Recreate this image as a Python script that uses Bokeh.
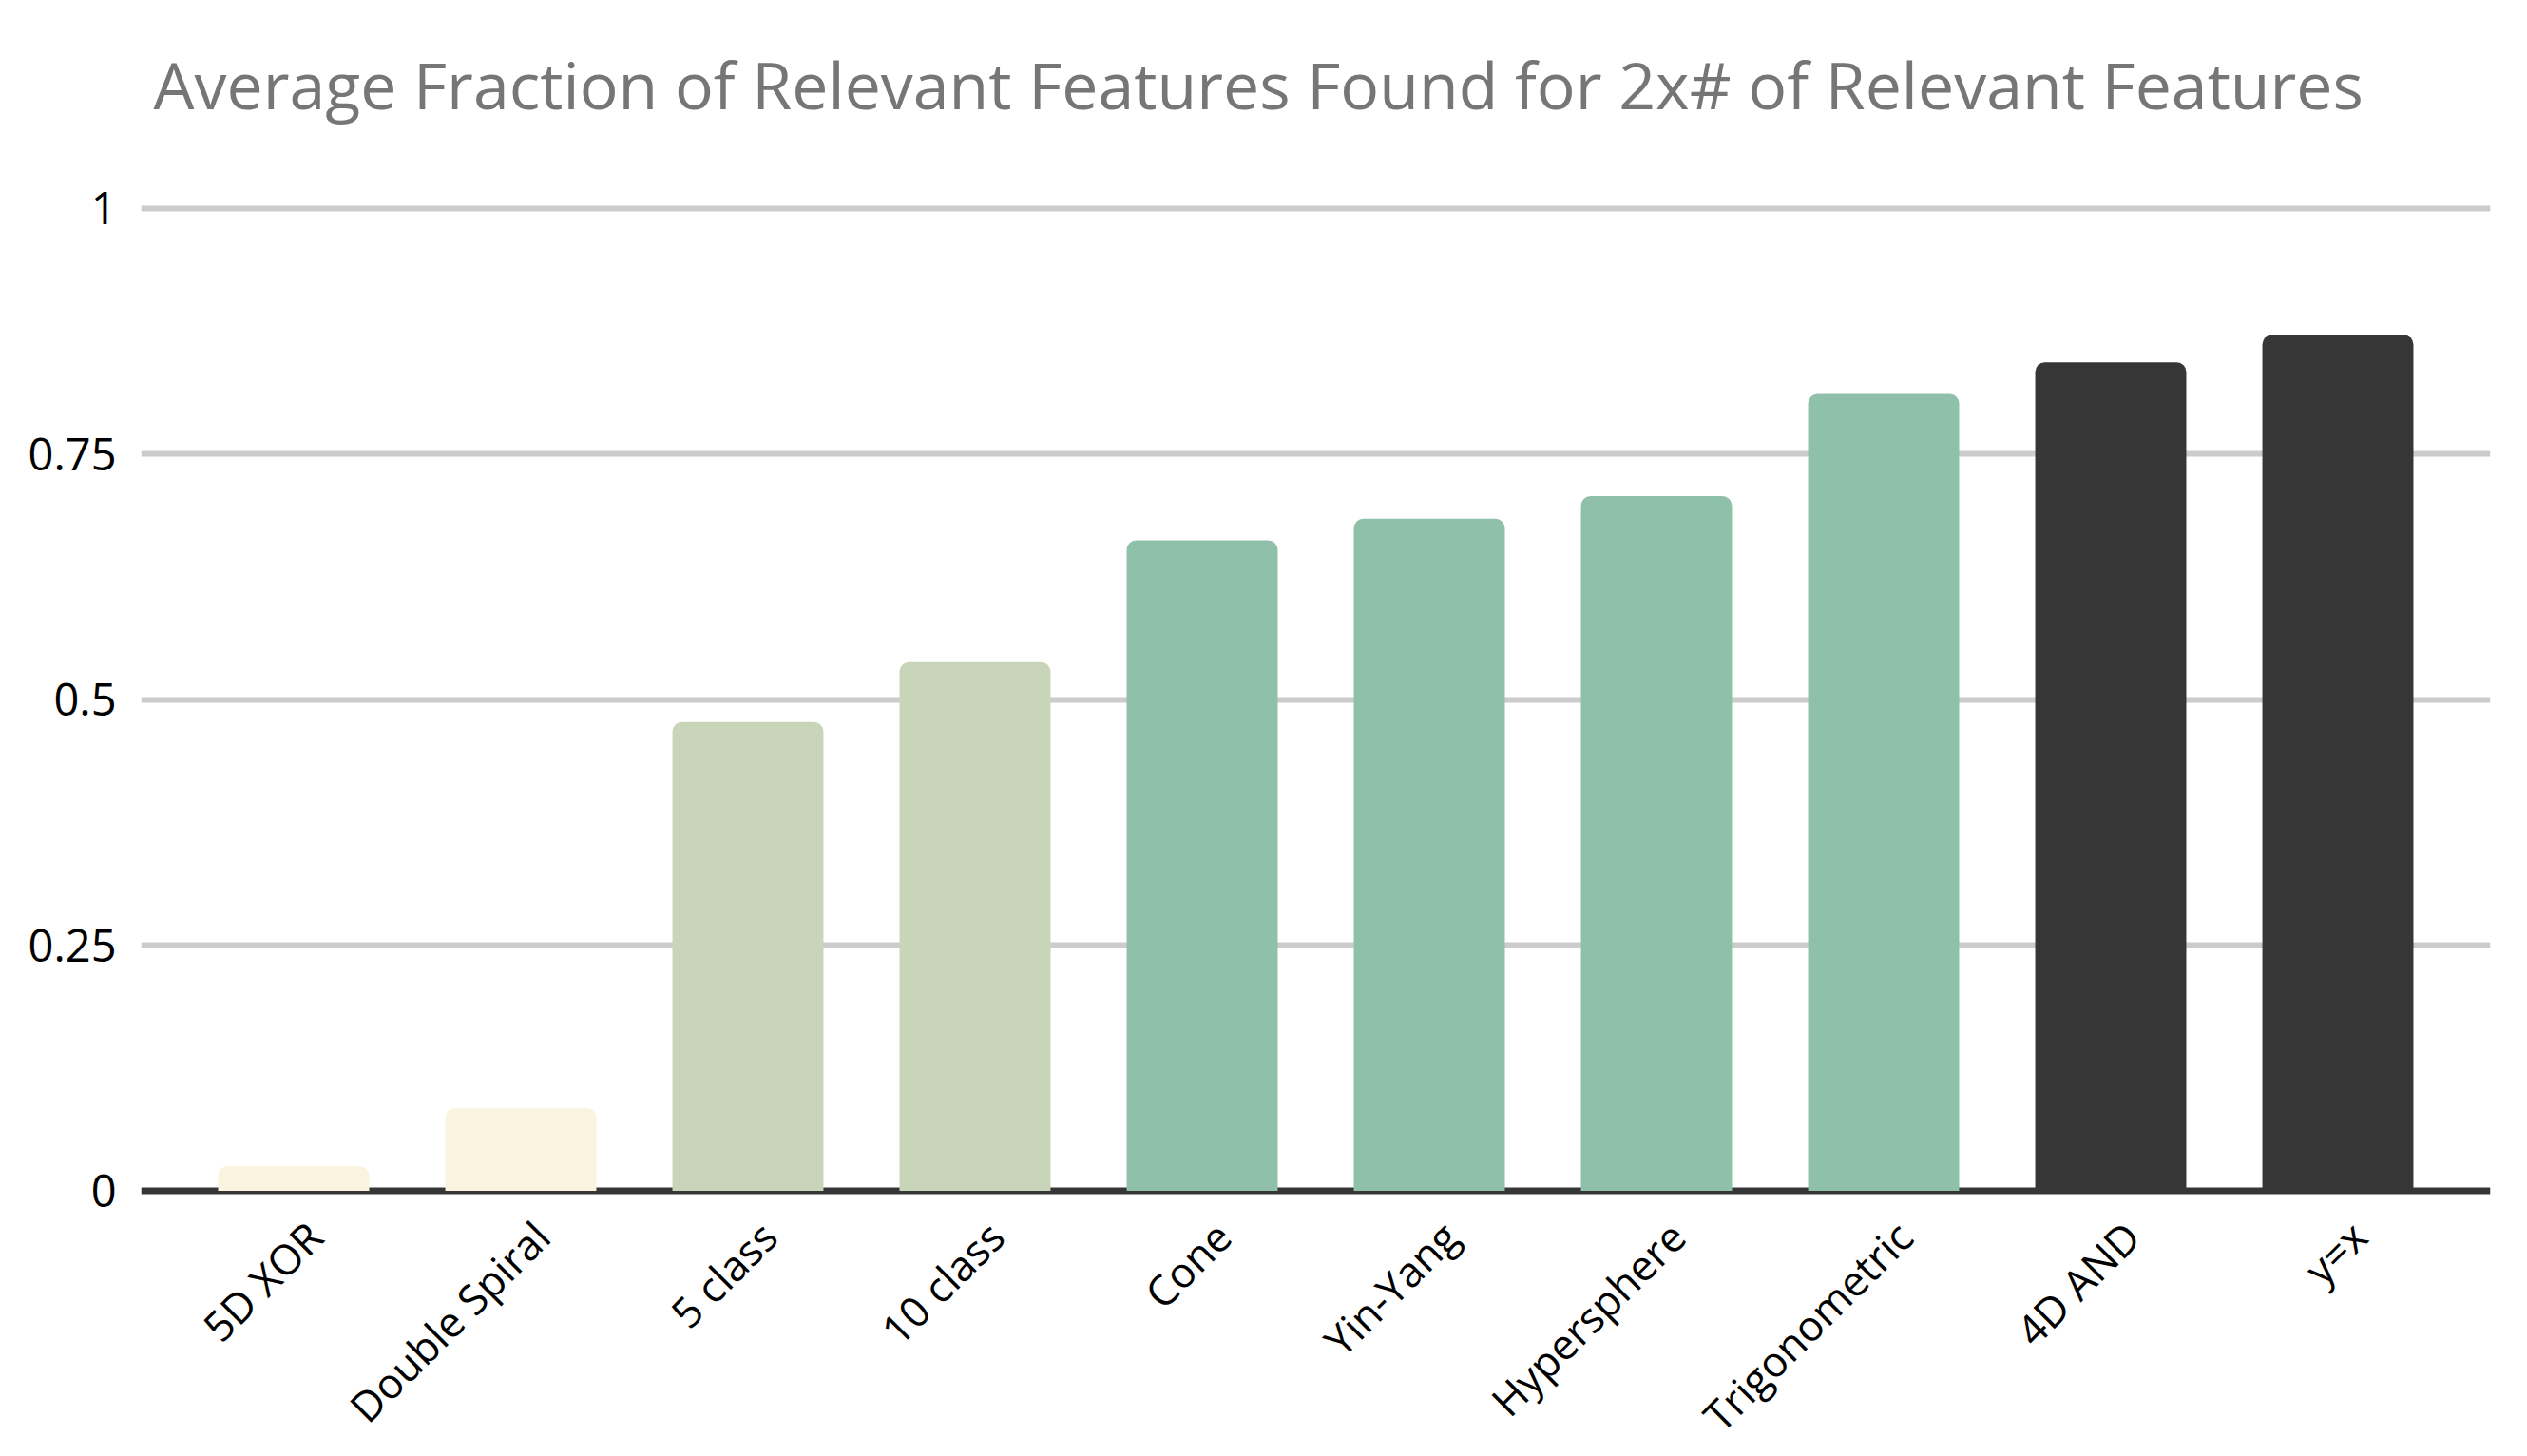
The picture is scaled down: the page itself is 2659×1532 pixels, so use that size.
from bokeh.plotting import figure
from bokeh.models import FactorRange, Range1d, FixedTicker, Span, ColumnDataSource, LabelSet
from bokeh.core.properties import value
from bokeh.embed import file_html
from bokeh.resources import INLINE
import math

categories = ["5D XOR", "Double Spiral", "5 class", "10 class", "Cone",
              "Yin-Yang", "Hypersphere", "Trigonometric", "4D AND", "y=x"]
values = [0.025, 0.084, 0.477, 0.538, 0.662, 0.684, 0.707, 0.811, 0.843, 0.871]
colors = ["#FAF3DD", "#FAF3DD", "#C8D5B9", "#C8D5B9", "#8FC0A9",
          "#8FC0A9", "#8FC0A9", "#8FC0A9", "#363636", "#363636"]
y_ticks = [0, 0.25, 0.5, 0.75, 1]
y_tick_labels = ["0", "0.25", "0.5", "0.75", "1"]
title_text = "Average Fraction of Relevant Features Found for 2x# of Relevant Features"

src = ColumnDataSource(dict(cat=categories, val=values, color=colors))

p = figure(
    width=2640, height=1524,
    x_range=FactorRange(factors=categories, range_padding=0.1715, range_padding_units="absolute"),
    y_range=Range1d(-0.2626, 1.0102),
    output_backend="svg", toolbar_location=None,
    min_border_left=148, min_border_right=20, min_border_top=208, min_border_bottom=0,
    title=title_text,
)
p.outline_line_color = None
p.background_fill_color = "white"

p.title.text_font = "Open Sans"
p.title.text_font_size = "68px"
p.title.text_font_style = "normal"
p.title.text_color = "#767676"
p.title.align = "left"
p.title.vertical_align = "bottom"
p.title.offset = 13
p.title.standoff = 0
p.title.padding = (0, 0, 0, 74)

p.vbar(x="cat", top="val", bottom=0, width=0.665, fill_color="color",
       line_color=None, source=src, border_radius=(10, 10, 0, 0))

zero = Span(location=0, dimension="width", line_color="#363636", line_width=7, level="underlay")
p.add_layout(zero)

p.xgrid.grid_line_color = None
p.ygrid.ticker = FixedTicker(ticks=[0.25, 0.5, 0.75, 1])
p.ygrid.grid_line_color = "#cccccc"
p.ygrid.grid_line_width = 6

p.yaxis.ticker = FixedTicker(ticks=y_ticks)
p.yaxis.major_label_overrides = {t: l for t, l in zip(y_ticks, y_tick_labels)}
p.yaxis.axis_line_color = None
p.yaxis.major_tick_line_color = None
p.yaxis.minor_tick_line_color = None
p.yaxis.major_tick_in = 0
p.yaxis.major_tick_out = 0
p.yaxis.major_label_standoff = 26
p.yaxis.major_label_text_font = "Open Sans"
p.yaxis.major_label_text_font_size = "47px"
p.yaxis.major_label_text_color = "black"

p.xaxis.visible = False

xlabels = LabelSet(x="cat", y=0, text="cat", source=src, angle=math.pi / 4,
                   text_align="right", text_baseline="middle",
                   x_offset=22, y_offset=-40,
                   text_font=value("Open Sans"), text_font_size="44px",
                   text_color="black")
p.add_layout(xlabels)

open("out.html", "w").write(file_html(p, INLINE))
